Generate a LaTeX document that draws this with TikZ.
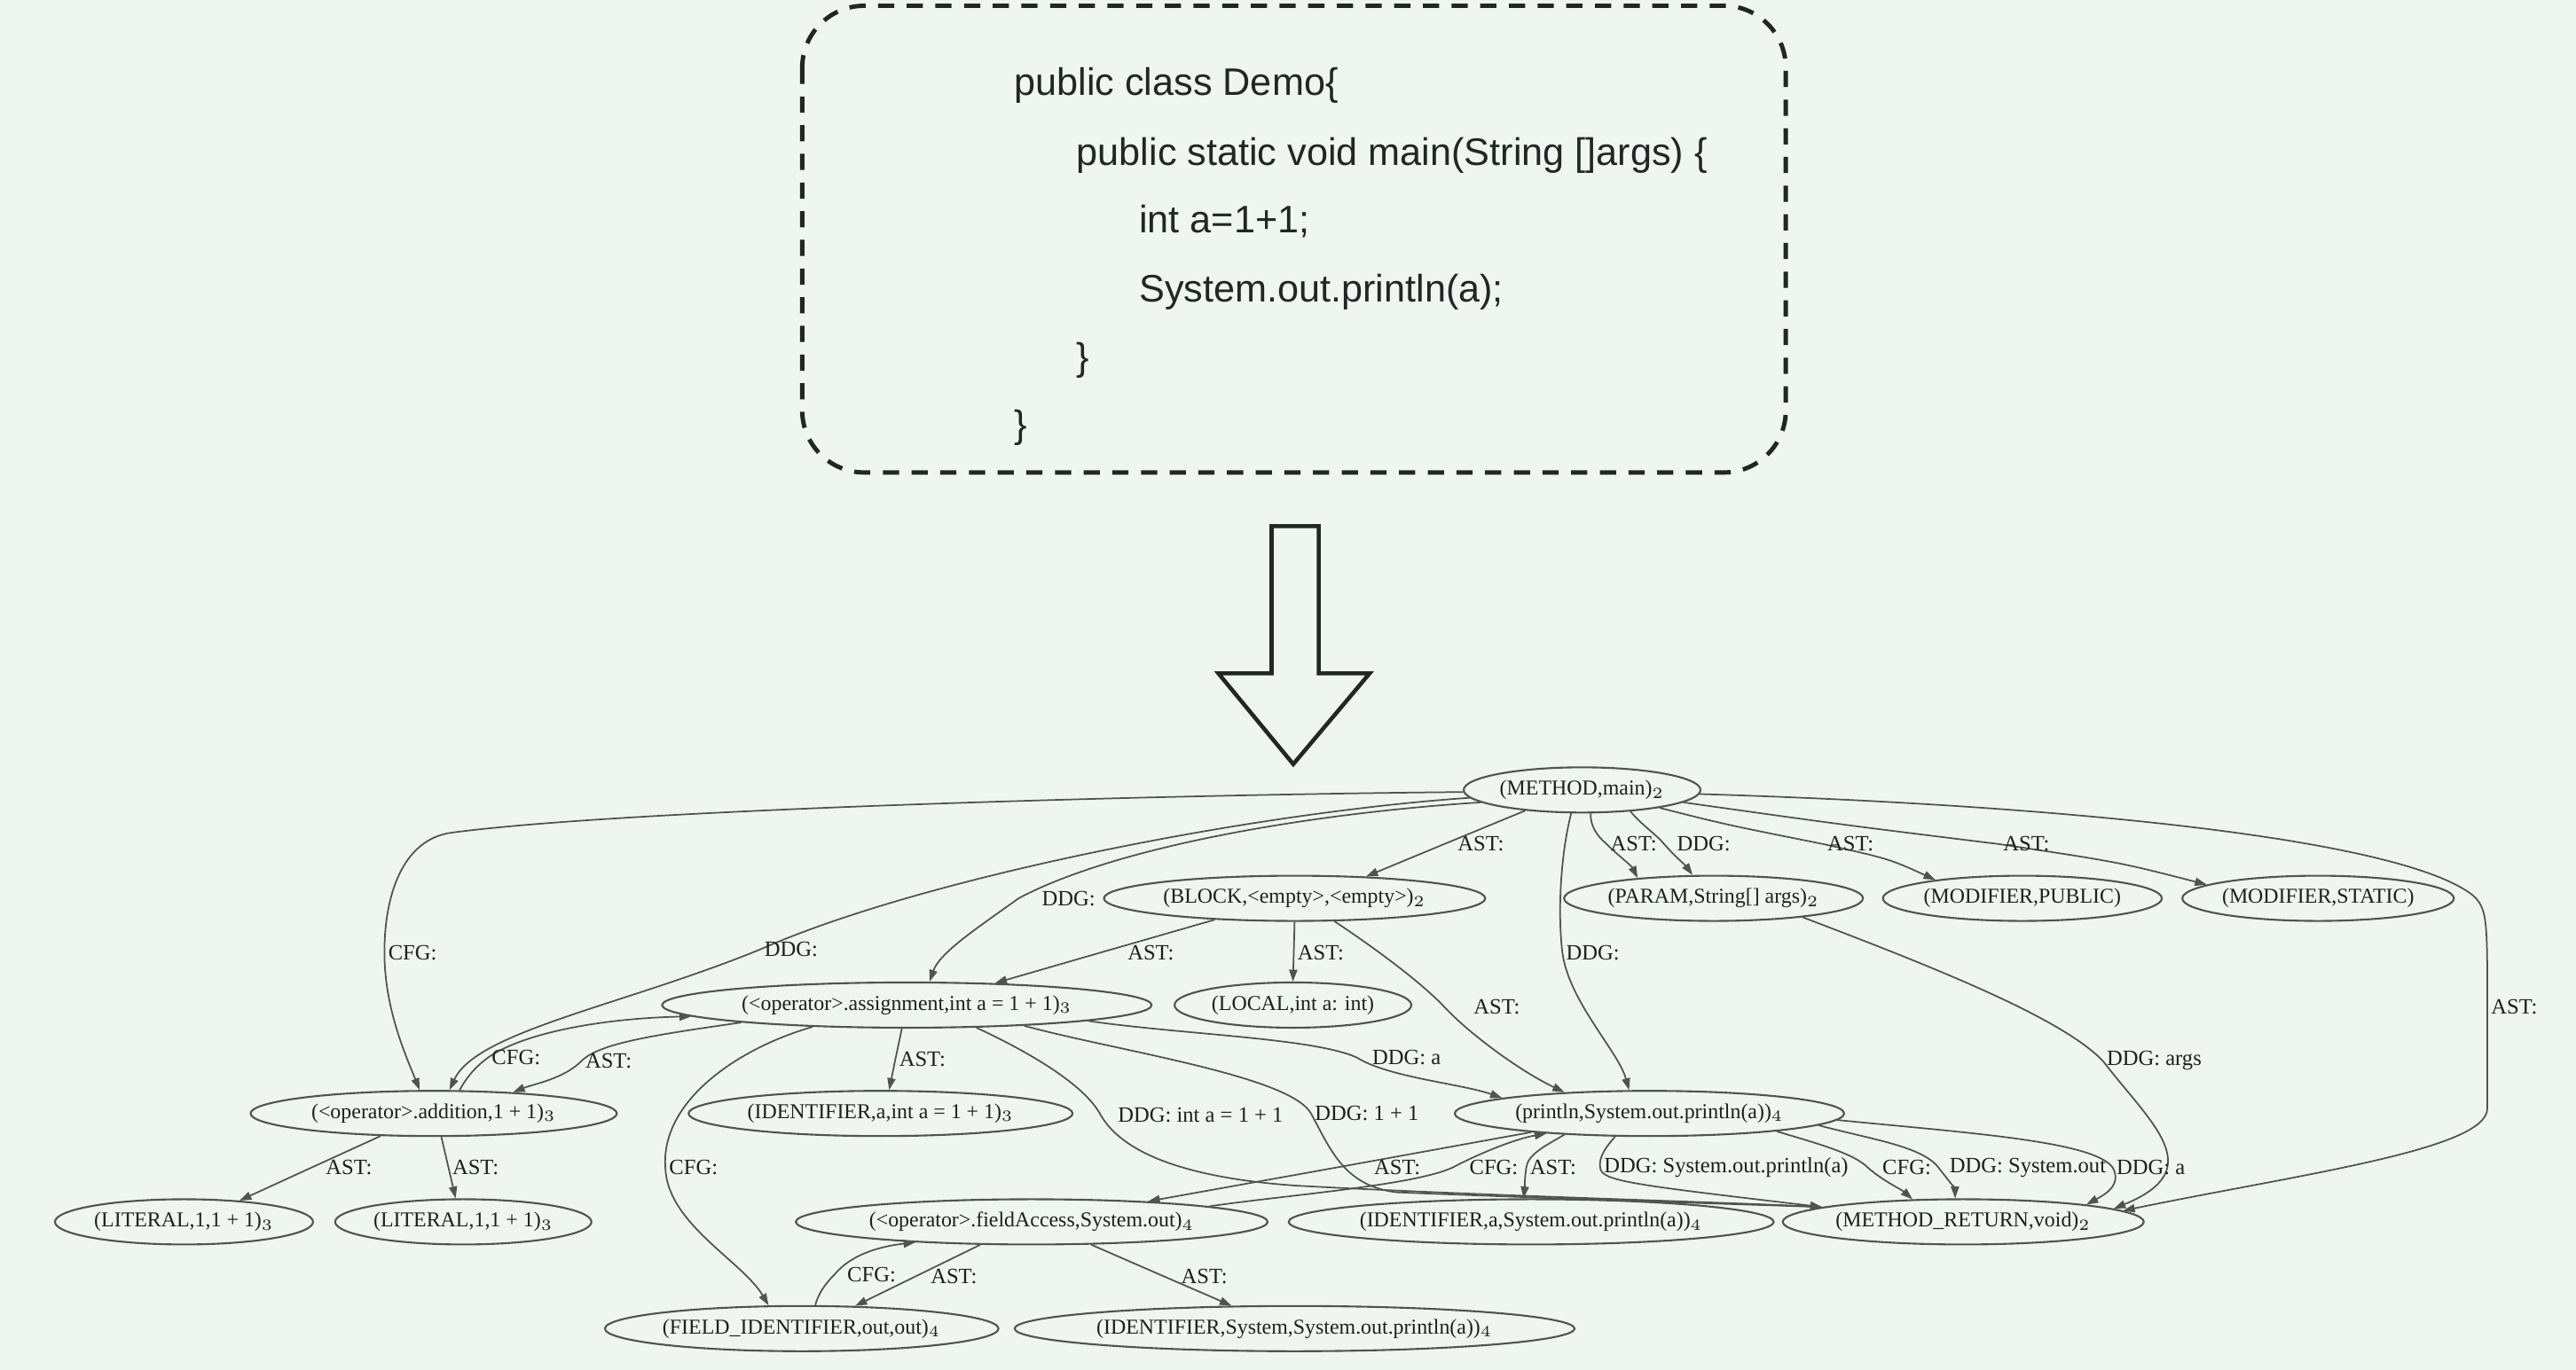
\documentclass[tikz,border=0pt]{standalone}
\usepackage{fontspec}
\setmainfont{Liberation Serif}
\newfontfamily\codefont{Liberation Sans}
\usetikzlibrary{shapes.geometric, arrows.meta, positioning, calc}
\definecolor{bgmint}{RGB}{239,246,239}
\definecolor{codeink}{RGB}{34,38,36}

\begin{document}
\begin{tikzpicture}[x=0.01852cm, y=-0.01852cm,
		cpgnode/.style={ellipse, draw=black!68, line width=0.6pt, inner sep=0pt, minimum height=0.51cm, font=\fontsize{6.8}{8}\selectfont, text=black!88},
		cpgedge/.style={draw=black!68, line width=0.5pt, -{Triangle[length=3.8pt, width=2.6pt]}},
		elabel/.style={anchor=west, inner sep=1pt, font=\fontsize{7}{8}\selectfont, text=black!88},
		codeline/.style={anchor=base west, inner sep=0pt, font=\codefont\fontsize{12.3}{14}\selectfont, text=codeink}]
		\useasboundingbox (0,0) rectangle (1568,834);
		\fill[bgmint] (0,0) rectangle (1568,834);

		% Source code
		\draw[codeink, line width=1.4pt, dash pattern=on 5.2pt off 4pt, rounded corners=0.7cm] (488.3,3.5) rectangle (1087,287.7);
		\node[codeline] (code1) at (617,58) {public class Demo\{};
		\node[codeline] (code2) at (655,100.5) {public static void main(String []args) \{};
		\node[codeline] (code3) at (693,142) {int a=1+1;};
		\node[codeline] (code4) at (693,184) {System.out.println(a);};
		\node[codeline] (code5) at (655,225.5) {\}};
		\node[codeline] (code6) at (617,266.5) {\}};

		% Big arrow
		\draw[codeink, line width=1.3pt, line join=miter] (774,320.4) -- (802.7,320.4) -- (802.7,410) -- (833.7,410) -- (787.2,465.3) -- (741.6,410) -- (774,410) -- cycle;

		% Graph nodes
		\node[cpgnode, minimum width=2.67cm] (main) at (963,481) {(METHOD,main)$_2$};
		\node[cpgnode, minimum width=4.30cm] (block) at (788,547) {(BLOCK,<empty>,<empty>)$_2$};
		\node[cpgnode, minimum width=3.37cm] (param) at (1043,547) {(PARAM,String[] args)$_2$};
		\node[cpgnode, minimum width=3.11cm] (mpub) at (1231,547) {(MODIFIER,PUBLIC)};
		\node[cpgnode, minimum width=3.06cm] (mstat) at (1411,547) {(MODIFIER,STATIC)};
		\node[cpgnode, minimum width=5.52cm] (assign) at (552,612) {(<operator>.assignment,int a = 1 + 1)$_3$};
		\node[cpgnode, minimum width=2.67cm] (local) at (787,612) {(LOCAL,int a: int)};
		\node[cpgnode, minimum width=4.13cm] (addit) at (264,678) {(<operator>.addition,1 + 1)$_3$};
		\node[cpgnode, minimum width=4.33cm] (idinit) at (536,678) {(IDENTIFIER,a,int a = 1 + 1)$_3$};
		\node[cpgnode, minimum width=4.39cm] (println) at (1004,678) {(println,System.out.println(a))$_4$};
		\node[cpgnode, minimum width=2.91cm] (lit1) at (112,744) {(LITERAL,1,1 + 1)$_3$};
		\node[cpgnode, minimum width=2.89cm] (lit2) at (282,744) {(LITERAL,1,1 + 1)$_3$};
		\node[cpgnode, minimum width=5.32cm] (facc) at (628,744) {(<operator>.fieldAccess,System.out)$_4$};
		\node[cpgnode, minimum width=5.41cm] (idasys) at (932,744) {(IDENTIFIER,a,System.out.println(a))$_4$};
		\node[cpgnode, minimum width=3.87cm] (mret) at (1195,744) {(METHOD\_RETURN,void)$_2$};
		\node[cpgnode, minimum width=4.33cm] (fid) at (488,809) {(FIELD\_IDENTIFIER,out,out)$_4$};
		\node[cpgnode, minimum width=6.24cm] (idsys) at (788,809) {(IDENTIFIER,System,System.out.println(a))$_4$};

		% Edges from METHOD
		\draw[cpgedge] (main.181) .. controls (700,484) and (380,493) .. (275,507) .. controls (245,511) and (234,545) .. (234,580) node[elabel] {CFG:} .. controls (234,615) and (248,645) .. (addit.121);
		\draw[cpgedge] (main.184) .. controls (760,495) and (560,535) .. (463,578) node[elabel] {DDG:} .. controls (380,612) and (290,628) .. (addit.56);
		\draw[cpgedge] (main.200) -- (879,514) node[elabel, xshift=0.11cm] {AST:} -- (block.17);
		\draw[cpgedge] (main.187) .. controls (800,495) and (680,515) .. (620,547) node[elabel, xshift=0.22cm] {DDG:} .. controls (595,565) and (572,580) .. (assign.46);
		\draw[cpgedge] (main.290) .. controls (968,503) and (972,509) .. (978,514) node[elabel] {AST:} .. controls (985,521) and (993,527) .. (param.165);
		\draw[cpgedge] (main.336) .. controls (1000,503) and (1008,508) .. (1013,514) node[elabel, xshift=0.1cm] {DDG:} .. controls (1019,521) and (1026,527) .. (param.132);
		\draw[cpgedge] (main.347) .. controls (1050,502) .. (1110,514) node[elabel] {AST:} .. controls (1150,523) .. (mpub.168);
		\draw[cpgedge] (main.353) .. controls (1120,502) .. (1217,514) node[elabel] {AST:} .. controls (1290,525) .. (mstat.173);
		\draw[cpgedge] (main.245) .. controls (950,520) and (948,555) .. (951,580) node[elabel] {DDG:} .. controls (955,610) and (985,640) .. (println.131);
		\draw[cpgedge] (main.358) .. controls (1250,490) and (1460,510) .. (1505,545) .. controls (1514,553) and (1514,560) .. (1514,613) node[elabel] {AST:} -- (1514,675) .. controls (1514,700) and (1400,715) .. (mret.4);

		% Edges from BLOCK and PARAM
		\draw[cpgedge] (block.195) -- (670,580) node[elabel, xshift=0.26cm] {AST:} -- (assign.14);
		\draw[cpgedge] (block.south) -- (787.5,580) node[elabel] {AST:} -- (local.north);
		\draw[cpgedge] (block.330) .. controls (835,576) and (865,598) .. (879,613) node[elabel, xshift=0.29cm] {AST:} .. controls (895,630) and (925,652) .. (println.166);
		\draw[cpgedge] (param.348) .. controls (1180,590) and (1255,620) .. (1280,646) node[elabel] {DDG: args} .. controls (1310,685) and (1345,712) .. (mret.5);

		% Edges from assignment
		\draw[cpgedge] (assign.186) .. controls (400,630) and (365,635) .. (354,646) node[elabel] {AST:} .. controls (343,657) and (325,660) .. (addit.15);
		\draw[cpgedge] (addit.42) .. controls (284,656) and (289,650) .. (297,644) node[elabel] {CFG:} .. controls (320,628) and (370,620) .. (assign.183);
		\draw[cpgedge] (assign.258) -- (545,645) node[elabel] {AST:} -- (idinit.70);
		\draw[cpgedge] (assign.193) .. controls (450,638) and (402,670) .. (405,711) node[elabel] {CFG:} .. controls (406,745) and (452,768) .. (fid.145);
		\draw[cpgedge] (assign.342) .. controls (625,640) and (660,660) .. (670,679) node[elabel, xshift=0.15cm] {DDG: int a = 1 + 1} .. controls (685,705) and (730,718) .. (790,722) .. controls (900,728) and (1050,732) .. (mret.174);
		\draw[cpgedge] (assign.350) .. controls (680,640) and (785,655) .. (798,678) node[elabel] {DDG: 1 + 1} .. controls (810,700) and (818,722) .. (850,726) .. controls (950,730) and (1050,733) .. (mret.174);
		\draw[cpgedge] (assign.355) .. controls (720,630) and (800,632) .. (826,644) node[elabel, xshift=0.13cm] {DDG: a} .. controls (845,656) and (890,660) .. (println.174);

		% Edges from addition
		\draw[cpgedge] (addit.203) -- (189.5,711) node[elabel, xshift=0.12cm] {AST:} -- (lit1.21);
		\draw[cpgedge] (addit.288) -- (273,711) node[elabel] {AST:} -- (lit2.108);

		% Edges from println
		\draw[cpgedge] (println.189) -- (813,711) node[elabel, xshift=0.39cm] {AST:} -- (facc.10);
		\draw[cpgedge] (facc.5) .. controls (780,728) and (860,722) .. (884,711) node[elabel, xshift=0.15cm] {CFG:} .. controls (905,700) and (925,693) .. (println.191);
		\draw[cpgedge] (println.194) .. controls (940,698) and (930,703) .. (929,711) node[elabel] {AST:} .. controls (928,718) and (928,724) .. (idasys.108);
		\draw[cpgedge] (println.214) .. controls (978,698) and (973,704) .. (974,711) node[elabel] {DDG: System.out.println(a)} .. controls (975,719) and (990,721) .. (mret.174);
		\draw[cpgedge] (println.352) .. controls (1105,696) and (1128,702) .. (1137,711) node[elabel, xshift=0.12cm] {CFG:} .. controls (1146,719) and (1157,724) .. (mret.156);
		\draw[cpgedge] (println.356) .. controls (1140,694) and (1170,698) .. (1180,711) node[elabel, xshift=0.08cm] {DDG: System.out} .. controls (1187,720) and (1190,724) .. (mret.109);
		\draw[cpgedge] (println.358) .. controls (1200,690) and (1275,695) .. (1286,711) node[elabel] {DDG: a} .. controls (1292,722) and (1280,728) .. (mret.8);

		% Edges from fieldAccess
		\draw[cpgedge] (facc.204) -- (557.7,777) node[elabel, xshift=0.12cm] {AST:} -- (fid.23);
		\draw[cpgedge] (fid.60) .. controls (498,788) and (502,782) .. (508,776) node[elabel, xshift=0.1cm] {CFG:} .. controls (518,764) and (535,759) .. (facc.190);
		\draw[cpgedge] (facc.339) -- (708,777) node[elabel, xshift=0.16cm] {AST:} -- (idsys.160);
	\end{tikzpicture}
\end{document}
